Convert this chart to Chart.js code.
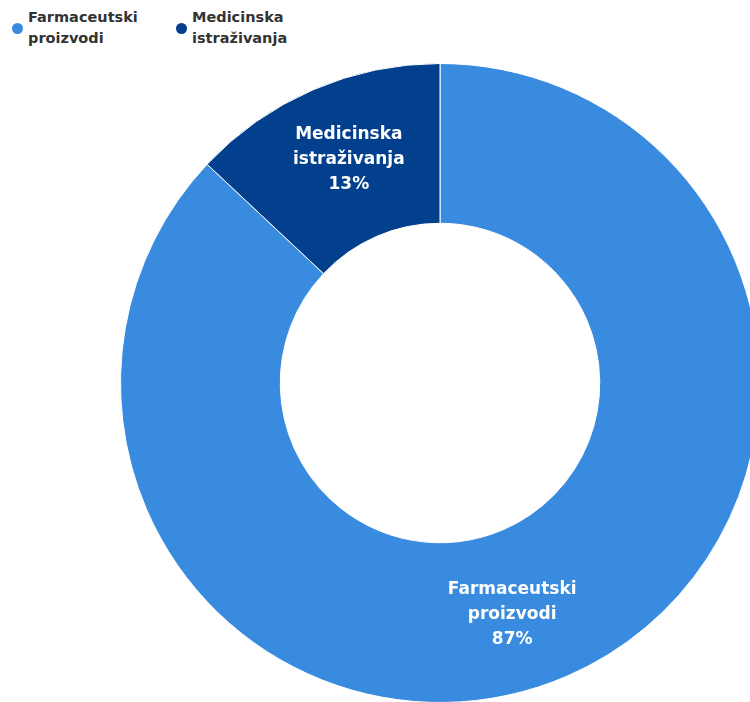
<!DOCTYPE html>
<html>
<head>
<meta charset="utf-8">
<script src="https://cdn.jsdelivr.net/npm/chart.js@4"></script>
<style>
    html, body { margin: 0; padding: 0; background: #fff; overflow: hidden; width: 750px; height: 702px; }
    .legend { position: absolute; top: 7px; left: 10px; font-family: "DejaVu Sans", sans-serif; font-weight: bold; font-size: 14.5px; line-height: 21px; color: #333; }
    .item { position: absolute; top: 0; white-space: nowrap; padding-left: 18px; }
    .dot { position: absolute; left: 2px; top: 16px; width: 11px; height: 11px; border-radius: 50%; }
    .wrap { position: absolute; left: 120px; top: 63px; width: 640px; height: 640px; }
</style>
</head>
<body>
<div class="legend" id="legend"></div>
<div class="wrap"><canvas id="chart" width="640" height="640"></canvas></div>
<script>
(function () {
    const categories = ['Farmaceutski proizvodi', 'Medicinska istraživanja']
    const labelLines = [['Farmaceutski', 'proizvodi'], ['Medicinska', 'istraživanja']]
    const values = [87, 13]
    const colors = ['#398BE0', '#023F8C']

    // html legend, two lines per entry
    const legend = document.getElementById('legend')
    const offsets = [0, 164]
    categories.forEach(function (c, i) {
        const el = document.createElement('div')
        el.className = 'item'
        el.style.left = offsets[i] + 'px'
        el.innerHTML = '<span class="dot" style="background:' + colors[i] + '"></span>' + labelLines[i].join('<br>')
        legend.appendChild(el)
    })

    const sliceLabels = {
        id: 'sliceLabels',
        afterDatasetsDraw(chart) {
            const ctx = chart.ctx
            const meta = chart.getDatasetMeta(0)
            ctx.save()
            ctx.fillStyle = '#fff'
            ctx.font = 'bold 17px "DejaVu Sans", sans-serif'
            ctx.textAlign = 'center'
            ctx.textBaseline = 'middle'
            meta.data.forEach(function (arc, i) {
                const p = arc.tooltipPosition()
                let x = p.x, y = p.y
                if (i === 0) { x -= 23; y += 12 } else { x += 4; y -= 4 }
                const lines = labelLines[i].concat([values[i] + '%'])
                lines.forEach(function (t, k) {
                    ctx.fillText(t, x, y + (k - 1) * 25)
                })
            })
            ctx.restore()
        }
    }

    new Chart(document.getElementById('chart'), {
        type: 'doughnut',
        data: {
            labels: categories,
            datasets: [{
                data: values,
                backgroundColor: colors,
                borderColor: '#ffffff',
                borderWidth: 1,
                cutout: '50%'
            }]
        },
        options: {
            responsive: false,
            animation: false,
            layout: { padding: 0 },
            plugins: {
                legend: { display: false },
                tooltip: { enabled: false }
            }
        },
        plugins: [sliceLabels]
    })
})()
</script>
</body>
</html>
